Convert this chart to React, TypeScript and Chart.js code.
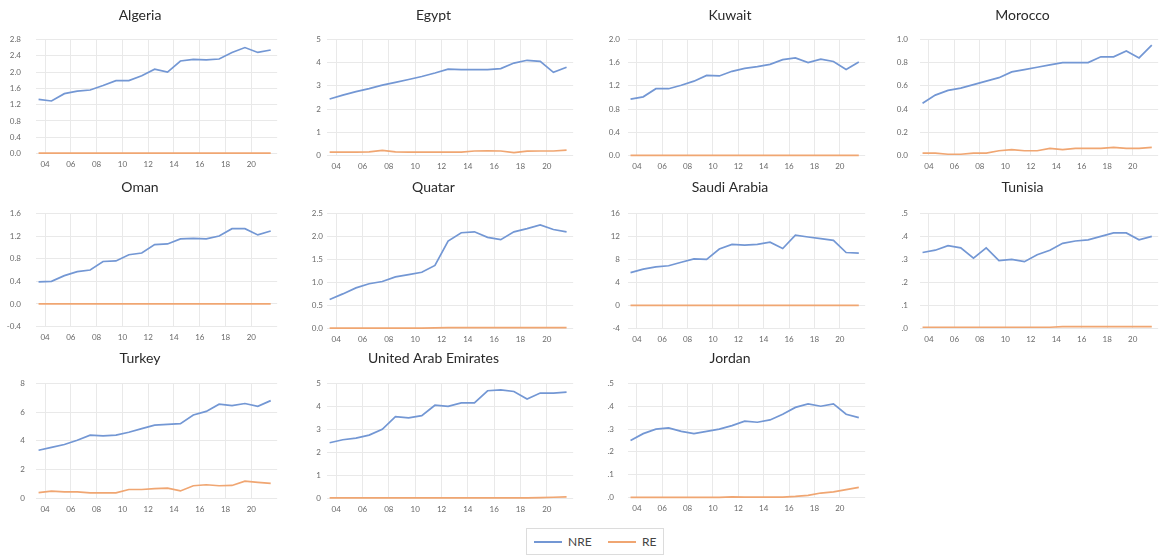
import React, { useEffect, useRef } from "react";
import { Chart, registerables } from "chart.js";

Chart.register(...registerables);

// ---------- data ----------
const YEARS = [2003, 2004, 2005, 2006, 2007, 2008, 2009, 2010, 2011, 2012, 2013, 2014, 2015, 2016, 2017, 2018, 2019, 2020, 2021];
const X_TICKS = [2004, 2006, 2008, 2010, 2012, 2014, 2016, 2018, 2020];
const SERIES_NAMES = ["NRE", "RE"];

const ALGERIA_NRE = [1.33, 1.29, 1.47, 1.53, 1.56, 1.67, 1.79, 1.79, 1.91, 2.07, 2.0, 2.27, 2.31, 2.3, 2.32, 2.48, 2.6, 2.48, 2.54];
const ALGERIA_RE = [0.01, 0.01, 0.01, 0.01, 0.01, 0.01, 0.01, 0.01, 0.01, 0.01, 0.01, 0.01, 0.01, 0.01, 0.01, 0.01, 0.01, 0.01, 0.01];
const ALGERIA_Y = [0, 0.4, 0.8, 1.2, 1.6, 2.0, 2.4, 2.8];

const EGYPT_NRE = [2.43, 2.6, 2.75, 2.88, 3.03, 3.15, 3.27, 3.4, 3.55, 3.72, 3.7, 3.7, 3.7, 3.74, 3.98, 4.1, 4.05, 3.58, 3.8];
const EGYPT_RE = [0.14, 0.14, 0.14, 0.15, 0.22, 0.15, 0.14, 0.14, 0.14, 0.14, 0.14, 0.19, 0.2, 0.19, 0.12, 0.18, 0.19, 0.19, 0.23];
const EGYPT_Y = [0, 1, 2, 3, 4, 5];

const KUWAIT_NRE = [0.97, 1.01, 1.15, 1.15, 1.21, 1.28, 1.38, 1.37, 1.45, 1.5, 1.53, 1.57, 1.65, 1.68, 1.6, 1.66, 1.62, 1.48, 1.61];
const KUWAIT_RE = [0.002, 0.002, 0.002, 0.002, 0.002, 0.002, 0.002, 0.002, 0.002, 0.002, 0.002, 0.002, 0.002, 0.002, 0.002, 0.002, 0.002, 0.002, 0.002];
const KUWAIT_Y = [0, 0.4, 0.8, 1.2, 1.6, 2.0];

const MOROCCO_NRE = [0.45, 0.52, 0.56, 0.58, 0.61, 0.64, 0.67, 0.72, 0.74, 0.76, 0.78, 0.8, 0.8, 0.8, 0.85, 0.85, 0.9, 0.84, 0.95];
const MOROCCO_RE = [0.02, 0.02, 0.01, 0.01, 0.02, 0.02, 0.04, 0.05, 0.04, 0.04, 0.06, 0.05, 0.06, 0.06, 0.06, 0.07, 0.06, 0.06, 0.07];
const MOROCCO_Y = [0, 0.2, 0.4, 0.6, 0.8, 1.0];

const OMAN_NRE = [0.39, 0.4, 0.5, 0.57, 0.6, 0.75, 0.76, 0.87, 0.9, 1.05, 1.06, 1.15, 1.16, 1.15, 1.2, 1.33, 1.33, 1.22, 1.29];
const OMAN_RE = [0.002, 0.002, 0.002, 0.002, 0.002, 0.002, 0.002, 0.002, 0.002, 0.002, 0.002, 0.002, 0.002, 0.002, 0.002, 0.002, 0.002, 0.002, 0.002];
const OMAN_Y = [-0.4, 0, 0.4, 0.8, 1.2, 1.6];

const QATAR_NRE = [0.63, 0.75, 0.88, 0.97, 1.02, 1.12, 1.17, 1.22, 1.37, 1.9, 2.08, 2.1, 1.98, 1.93, 2.1, 2.17, 2.25, 2.15, 2.1];
const QATAR_RE = [0.005, 0.005, 0.005, 0.005, 0.005, 0.005, 0.005, 0.005, 0.01, 0.015, 0.015, 0.015, 0.015, 0.015, 0.015, 0.015, 0.015, 0.015, 0.015];
const QATAR_Y = [0, 0.5, 1.0, 1.5, 2.0, 2.5];

const SAUDI_NRE = [5.7, 6.3, 6.7, 6.9, 7.5, 8.1, 8.0, 9.8, 10.6, 10.5, 10.6, 11.0, 9.9, 12.2, 11.9, 11.6, 11.3, 9.2, 9.1];
const SAUDI_RE = [0.01, 0.01, 0.01, 0.01, 0.01, 0.01, 0.01, 0.01, 0.01, 0.01, 0.01, 0.01, 0.01, 0.01, 0.01, 0.01, 0.01, 0.01, 0.01];
const SAUDI_Y = [-4, 0, 4, 8, 12, 16];

const TUNISIA_NRE = [0.33, 0.34, 0.36, 0.35, 0.305, 0.35, 0.295, 0.3, 0.29, 0.32, 0.34, 0.37, 0.38, 0.385, 0.4, 0.415, 0.415, 0.385, 0.4];
const TUNISIA_RE = [0.005, 0.005, 0.005, 0.005, 0.005, 0.005, 0.005, 0.005, 0.005, 0.005, 0.005, 0.008, 0.008, 0.008, 0.008, 0.008, 0.008, 0.008, 0.008];
const TUNISIA_Y = [0, 0.1, 0.2, 0.3, 0.4, 0.5];

const TURKEY_NRE = [3.35, 3.55, 3.75, 4.05, 4.4, 4.35, 4.4, 4.6, 4.85, 5.1, 5.15, 5.2, 5.8, 6.05, 6.55, 6.45, 6.6, 6.4, 6.8];
const TURKEY_RE = [0.4, 0.5, 0.45, 0.45, 0.38, 0.38, 0.38, 0.62, 0.62, 0.68, 0.72, 0.52, 0.88, 0.95, 0.88, 0.9, 1.2, 1.12, 1.05];
const TURKEY_Y = [0, 2, 4, 6, 8];

const UAE_NRE = [2.42, 2.55, 2.62, 2.75, 3.0, 3.55, 3.5, 3.6, 4.05, 4.0, 4.15, 4.15, 4.68, 4.72, 4.65, 4.32, 4.58, 4.58, 4.62];
const UAE_RE = [0.02, 0.02, 0.02, 0.02, 0.02, 0.02, 0.02, 0.02, 0.02, 0.02, 0.02, 0.02, 0.02, 0.02, 0.02, 0.02, 0.03, 0.05, 0.07];
const UAE_Y = [0, 1, 2, 3, 4, 5];

const JORDAN_NRE = [0.25, 0.28, 0.3, 0.305, 0.29, 0.28, 0.29, 0.3, 0.315, 0.335, 0.33, 0.34, 0.365, 0.395, 0.41, 0.4, 0.41, 0.365, 0.35];
const JORDAN_RE = [0.001, 0.001, 0.001, 0.001, 0.001, 0.001, 0.001, 0.001, 0.003, 0.002, 0.002, 0.002, 0.002, 0.005, 0.01, 0.02, 0.025, 0.035, 0.045];
const JORDAN_Y = [0, 0.1, 0.2, 0.3, 0.4, 0.5];

// ---------- style / layout ----------
const FONT = "Lato, 'Open Sans', 'DejaVu Sans', sans-serif";
const NRE_COLOR = "#7397d4";
const RE_COLOR = "#f0a672";
const GRID_COLOR = "#e9e9e9";
const TICK_COLOR = "#6a6a6a";
const TITLE_SIZE = 14;
const TITLE_LH = TITLE_SIZE * 1.2;
const Y_AXIS_W = 34;
const X_AXIS_H = 18;

// plot-area columns [left, right] and rows [titleCenter, top, bottom]
const COLS = [
  [36, 278],
  [327, 574],
  [628, 866],
  [920, 1159],
];
const ROWS = [
  [15, 39, 155],
  [187, 213, 328],
  [358, 383, 498],
];

type Fmt = "d1" | "int" | "nolead";

type PanelCfg = {
  name: string;
  nre: number[];
  re: number[];
  yTicks: number[];
  fmt: Fmt;
  col: number;
  row: number;
  gap: number;
};

const PANELS: PanelCfg[] = [
  { name: "Algeria", nre: ALGERIA_NRE, re: ALGERIA_RE, yTicks: ALGERIA_Y, fmt: "d1", col: 0, row: 0, gap: 15 },
  { name: "Egypt", nre: EGYPT_NRE, re: EGYPT_RE, yTicks: EGYPT_Y, fmt: "int", col: 1, row: 0, gap: 6 },
  { name: "Kuwait", nre: KUWAIT_NRE, re: KUWAIT_RE, yTicks: KUWAIT_Y, fmt: "d1", col: 2, row: 0, gap: 8 },
  { name: "Morocco", nre: MOROCCO_NRE, re: MOROCCO_RE, yTicks: MOROCCO_Y, fmt: "d1", col: 3, row: 0, gap: 12 },
  { name: "Oman", nre: OMAN_NRE, re: OMAN_RE, yTicks: OMAN_Y, fmt: "d1", col: 0, row: 1, gap: 15 },
  { name: "Quatar", nre: QATAR_NRE, re: QATAR_RE, yTicks: QATAR_Y, fmt: "d1", col: 1, row: 1, gap: 4 },
  { name: "Saudi Arabia", nre: SAUDI_NRE, re: SAUDI_RE, yTicks: SAUDI_Y, fmt: "int", col: 2, row: 1, gap: 8 },
  { name: "Tunisia", nre: TUNISIA_NRE, re: TUNISIA_RE, yTicks: TUNISIA_Y, fmt: "nolead", col: 3, row: 1, gap: 12 },
  { name: "Turkey", nre: TURKEY_NRE, re: TURKEY_RE, yTicks: TURKEY_Y, fmt: "int", col: 0, row: 2, gap: 11 },
  { name: "United Arab Emirates", nre: UAE_NRE, re: UAE_RE, yTicks: UAE_Y, fmt: "int", col: 1, row: 2, gap: 6 },
  { name: "Jordan", nre: JORDAN_NRE, re: JORDAN_RE, yTicks: JORDAN_Y, fmt: "nolead", col: 2, row: 2, gap: 14 },
];

function formatTick(v: number, fmt: Fmt): string {
  if (fmt === "int") return String(Math.round(v));
  const s = v.toFixed(1);
  if (fmt === "nolead") return s.replace(/^(-?)0\./, "$1.");
  return s;
}

function Panel({ cfg }: { cfg: PanelCfg }) {
  const ref = useRef<HTMLCanvasElement | null>(null);
  const [pl, pr] = COLS[cfg.col];
  const [tc, pt, pb] = ROWS[cfg.row];
  const left = pl - Y_AXIS_W;
  const top = tc - TITLE_LH / 2;
  const width = pr - left;
  const height = pb - top + X_AXIS_H;
  const titleBottomPad = pt - top - TITLE_LH;

  useEffect(() => {
    if (!ref.current) return;
    const toPts = (arr: number[]) => YEARS.map((yr, i) => ({ x: yr + 0.5, y: arr[i] }));
    const yMin = cfg.yTicks[0];
    const yMax = cfg.yTicks[cfg.yTicks.length - 1];
    const chart = new Chart(ref.current, {
      type: "line",
      data: {
        datasets: [
          { label: SERIES_NAMES[0], data: toPts(cfg.nre), borderColor: NRE_COLOR, borderWidth: 1.7, pointRadius: 0, tension: 0, clip: false as any },
          { label: SERIES_NAMES[1], data: toPts(cfg.re), borderColor: RE_COLOR, borderWidth: 1.7, pointRadius: 0, tension: 0, clip: false as any },
        ],
      },
      options: {
        animation: false,
        responsive: true,
        maintainAspectRatio: false,
        layout: { padding: 0 },
        events: [],
        plugins: {
          legend: { display: false },
          tooltip: { enabled: false },
          title: {
            display: true,
            text: cfg.name,
            color: "#2a2a2a",
            font: { family: FONT, size: TITLE_SIZE, weight: "normal" as any, lineHeight: 1.2 },
            padding: { top: 0, bottom: titleBottomPad },
          },
        },
        scales: {
          x: {
            type: "linear",
            min: 2003.3,
            max: 2022,
            afterBuildTicks: (s: any) => {
              s.ticks = X_TICKS.map((v) => ({ value: v }));
            },
            afterFit: (s: any) => {
              s.height = X_AXIS_H;
            },
            grid: { color: GRID_COLOR, drawTicks: false, lineWidth: 1 },
            border: { display: false },
            ticks: {
              color: TICK_COLOR,
              font: { family: FONT, size: 8 },
              padding: 6,
              maxRotation: 0,
              autoSkip: false,
              callback: (v: any) => String(Number(v) % 100).padStart(2, "0"),
            },
          },
          y: {
            type: "linear",
            min: yMin,
            max: yMax,
            afterBuildTicks: (s: any) => {
              s.ticks = cfg.yTicks.map((v) => ({ value: v }));
            },
            afterFit: (s: any) => {
              s.width = Y_AXIS_W;
            },
            grid: { color: GRID_COLOR, drawTicks: false, lineWidth: 1 },
            border: { display: false },
            ticks: {
              color: TICK_COLOR,
              font: { family: FONT, size: 8 },
              padding: cfg.gap,
              autoSkip: false,
              callback: (v: any) => formatTick(Number(v), cfg.fmt),
            },
          },
        },
      },
    });
    return () => chart.destroy();
  }, [cfg]);

  return (
    <div style={{ position: "absolute", left, top, width, height }}>
      <canvas ref={ref} />
    </div>
  );
}

function Legend() {
  const item = (color: string, label: string, textW: number) => (
    <div style={{ display: "flex", alignItems: "center" }}>
      <div style={{ width: 28, height: 2, background: color, marginRight: 6 }} />
      <span style={{ width: textW, color: "#444", fontSize: 12, fontFamily: FONT }}>{label}</span>
    </div>
  );
  return (
    <div
      style={{
        position: "absolute",
        left: 526,
        top: 528,
        width: 138,
        height: 27,
        boxSizing: "border-box",
        border: "1px solid #dcdcdc",
        display: "flex",
        alignItems: "center",
        paddingLeft: 7,
        gap: 14,
      }}
    >
      {item(NRE_COLOR, SERIES_NAMES[0], 26)}
      {item(RE_COLOR, SERIES_NAMES[1], 18)}
    </div>
  );
}

export default function App() {
  return (
    <div style={{ position: "absolute", left: 0, top: 0, width: 1160, height: 556, background: "#fff", overflow: "hidden" }}>
      {PANELS.map((p) => (
        <Panel key={p.name} cfg={p} />
      ))}
      <Legend />
    </div>
  );
}
